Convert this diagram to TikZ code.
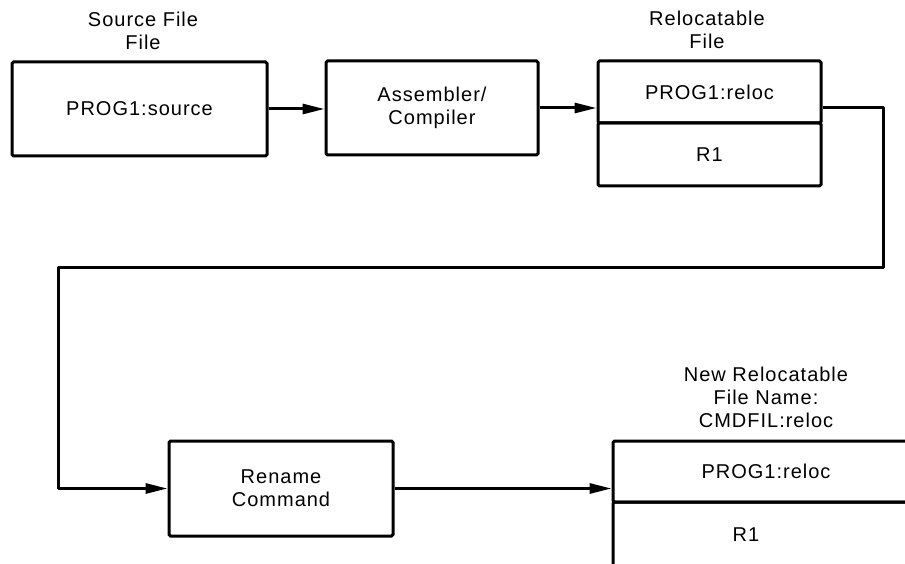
\documentclass[tikz,border=0pt]{standalone}
\usepackage{fontspec}
\setmainfont{Liberation Sans}[LetterSpace=5]
\usetikzlibrary{arrows.meta}
\begin{document}
\begin{tikzpicture}[x=1pt,y=-1pt,
  txt/.style={font=\fontsize{20}{23}\selectfont, align=center, inner sep=0pt},
  box/.style={draw, line width=3pt, rounded corners=1.5pt, inner sep=0pt,
              font=\fontsize{20}{23}\selectfont, align=center},
  conn/.style={line width=3pt, line join=round},
  arr/.style={conn, -{Triangle[length=22pt,width=10pt]}}]
\clip (0,0) rectangle (905,564);
% boxes
\node[box, minimum width=255pt, minimum height=94pt] (b1) at (139.5,109) {PROG1:source};
\node[box, minimum width=212pt, minimum height=94pt] (b2) at (432,108) {Assembler/\\Compiler};
\node[box, minimum width=223pt, minimum height=62pt] (r3a) at (709.5,92) {PROG1:reloc};
\node[box, minimum width=223pt, minimum height=63pt] (r3b) at (709.5,154.5) {R1};
\node[box, minimum width=224pt, minimum height=95pt] (b4) at (281,488.5) {Rename\\Command};
\node[box, minimum width=306pt, minimum height=61pt] (n5a) at (766,471.5) {PROG1:reloc};
\node[box, minimum width=306pt, minimum height=66pt] (n5b) at (766,535) {};
\node[txt] (r1b) at (746,535) {R1};
% titles
\node[txt] (t-src) at (143,31) {Source File\\File};
\node[txt] (t-rel) at (707,30) {Relocatable\\File};
\node[txt] (t-new) at (766,397) {New Relocatable\\File Name:\\CMDFIL:reloc};
% connectors
\coordinate (c1) at (883,267);
\coordinate (c2) at (58,267);
\draw[arr] (b1.east) -- (b1.east -| b2.west);
\draw[arr] (b2.east) -- (b2.east -| r3a.west);
\draw[arr] (r3a.east |- b2.east) -| (c1) -- (c2) |- (b4.west);
\draw[arr] (b4.east) -- (b4.east -| n5a.west);
\end{tikzpicture}
\end{document}
